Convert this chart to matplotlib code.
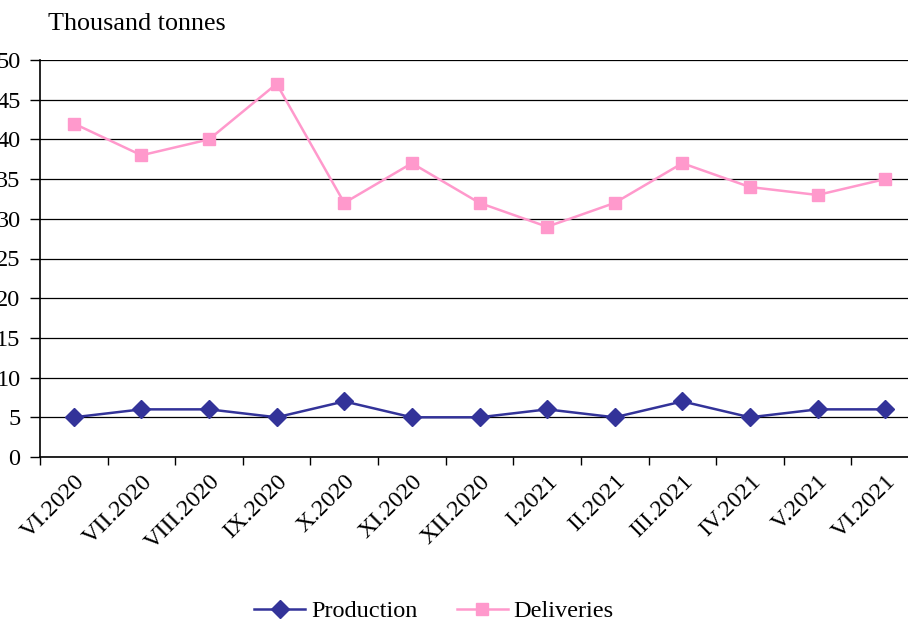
import matplotlib.pyplot as plt

months = ["VI.2020", "VII.2020", "VIII.2020", "IX.2020", "X.2020", "XI.2020", "XII.2020",
          "I.2021", "II.2021", "III.2021", "IV.2021", "V.2021", "VI.2021"]
production = [5, 6, 6, 5, 7, 5, 5, 6, 5, 7, 5, 6, 6]
deliveries = [42, 38, 40, 47, 32, 37, 32, 29, 32, 37, 34, 33, 35]

plt.rcParams['font.family'] = ['Liberation Serif', 'DejaVu Serif']

fig = plt.figure(figsize=(9.08, 6.23), dpi=100)
# plot area runs off the right edge, as in the original
ax = fig.add_axes([40/908, 1 - 457/623, 879/908, 397/623])

x = list(range(len(months)))
ax.plot(x, production, color='#333399', lw=1.8, marker='D', ms=9, label='Production')
ax.plot(x, deliveries, color='#FF99CC', lw=1.8, marker='s', ms=9, label='Deliveries')

ax.set_xlim(-0.5, len(months) - 0.5)
ax.set_ylim(0, 50)
ax.set_yticks(range(0, 51, 5))
ax.yaxis.grid(True, color='black', lw=0.9)
ax.set_axisbelow(True)

# ticks between categories, labels at centres
ax.set_xticks([i - 0.5 for i in range(len(months) + 1)])
ax.set_xticklabels([])
ax.set_xticks(x, minor=True)
ax.set_xticklabels(months, minor=True, rotation=45, ha='right', rotation_mode='anchor', fontsize=17.5)
ax.tick_params(axis='x', which='minor', length=0, pad=10)
ax.tick_params(axis='x', which='major', length=6, width=1, color='black')
ax.tick_params(axis='y', length=7, width=1, labelsize=17.5, pad=7)

for s in ['top', 'right']:
    ax.spines[s].set_visible(False)
ax.spines['left'].set_linewidth(1.2)
ax.spines['bottom'].set_linewidth(1.2)

fig.text(48/908, 1 - 24/623, "Thousand tonnes", fontsize=18.8, va='center')
fig.legend(loc='center', bbox_to_anchor=(0.478, 0.019), ncol=2, frameon=False,
           fontsize=17.5, handlelength=2.1, columnspacing=1.6, handletextpad=0.25)

plt.savefig("out.png", dpi=100)
